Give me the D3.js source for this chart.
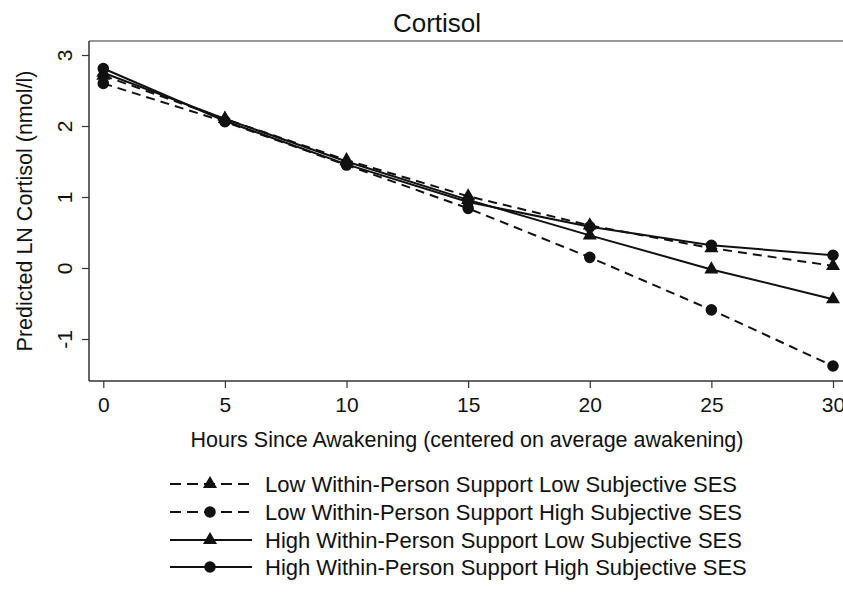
<!DOCTYPE html>
<html>
<head>
<meta charset="utf-8">
<script src="https://cdn.jsdelivr.net/npm/d3@7"></script>
<style>
  body { margin: 0; background: #fff; }
  text { font-family: "Liberation Sans", Arial, Helvetica, sans-serif; fill: #111; }
</style>
</head>
<body>
<div id="chart"></div>
<script>
// Data
const hours = [0, 5, 10, 15, 20, 25, 30];
const lowSupLowSES = [2.71, 2.10, 1.52, 1.01, 0.60, 0.28, 0.03];
const lowSupHighSES = [2.60, 2.06, 1.45, 0.84, 0.15, -0.59, -1.38];
const highSupLowSES = [2.75, 2.10, 1.50, 0.96, 0.46, -0.02, -0.44];
const highSupHighSES = [2.81, 2.07, 1.46, 0.93, 0.58, 0.32, 0.18];
const xTicks = [0, 5, 10, 15, 20, 25, 30];
const yTicks = [-1, 0, 1, 2, 3];
const seriesNames = [
    "Low Within-Person Support Low Subjective SES",
    "Low Within-Person Support High Subjective SES",
    "High Within-Person Support Low Subjective SES",
    "High Within-Person Support High Subjective SES"
];

const series = [
    {name: seriesNames[0], values: lowSupLowSES, dashed: true, symbol: "triangle"},
    {name: seriesNames[1], values: lowSupHighSES, dashed: true, symbol: "circle"},
    {name: seriesNames[2], values: highSupLowSES, dashed: false, symbol: "triangle"},
    {name: seriesNames[3], values: highSupHighSES, dashed: false, symbol: "circle"}
];

const width = 843, height = 609;
const plot = {left: 89, top: 41, right: 843, bottom: 381};

const svg = d3.select("#chart")
    .append("svg")
    .attr("width", width)
    .attr("height", height);

const x = d3.scaleLinear().domain([0, 30]).range([103.3, 833]);
const y = d3.scaleLinear().domain([-1, 3]).range([339, 55]);

// Frame (top edge of plot region)
svg.append("line")
    .attr("x1", plot.left).attr("x2", plot.right)
    .attr("y1", plot.top).attr("y2", plot.top)
    .attr("stroke", "#777").attr("stroke-width", 1.5);

// Axes
const yAxis = svg.append("g")
    .attr("transform", `translate(${plot.left},0)`)
    .call(d3.axisLeft(y).tickValues(yTicks).tickSize(7).tickFormat(d => String(d)));
yAxis.select(".domain").attr("d", `M0,${plot.top}V${plot.bottom}`).attr("stroke", "#333").attr("stroke-width", 1.5);
yAxis.selectAll(".tick line").attr("stroke", "#333").attr("stroke-width", 1.2);
yAxis.selectAll(".tick text")
    .attr("x", null).attr("dy", null)
    .attr("text-anchor", "middle")
    .attr("transform", "translate(-17,0) rotate(-90)")
    .style("font-size", "21px")
    .style("font-family", "'Liberation Sans', Arial, sans-serif")
    .attr("fill", "#111");

const xAxis = svg.append("g")
    .attr("transform", `translate(0,${plot.bottom})`)
    .call(d3.axisBottom(x).tickValues(xTicks).tickSize(7));
xAxis.select(".domain").attr("d", `M${plot.left},0H${plot.right}`).attr("stroke", "#333").attr("stroke-width", 1.5);
xAxis.selectAll(".tick line").attr("stroke", "#333").attr("stroke-width", 1.2);
xAxis.selectAll(".tick text")
    .attr("y", 31).attr("dy", null)
    .style("font-size", "21px")
    .style("font-family", "'Liberation Sans', Arial, sans-serif")
    .attr("fill", "#111");

// Titles
svg.append("text")
    .attr("x", 437).attr("y", 31.5)
    .attr("text-anchor", "middle")
    .style("font-size", "26px")
    .text("Cortisol");

svg.append("text")
    .attr("x", 467).attr("y", 447)
    .attr("text-anchor", "middle")
    .style("font-size", "21.5px")
    .text("Hours Since Awakening (centered on average awakening)");

svg.append("text")
    .attr("transform", "translate(32,211) rotate(-90)")
    .attr("text-anchor", "middle")
    .style("font-size", "21.5px")
    .text("Predicted LN Cortisol (nmol/l)");

// Lines and markers
const line = d3.line()
    .x((d, i) => x(hours[i]))
    .y(d => y(d));

const symbolFor = s => s === "triangle"
    ? d3.symbol().type(d3.symbolTriangle).size(85)
    : d3.symbol().type(d3.symbolCircle).size(105);

series.forEach(s => {
    svg.append("path")
        .datum(s.values)
        .attr("d", line)
        .attr("fill", "none")
        .attr("stroke", "#111")
        .attr("stroke-width", 2)
        .attr("stroke-dasharray", s.dashed ? "9,6" : null);

    svg.selectAll(null)
        .data(s.values)
        .join("path")
        .attr("transform", (d, i) => `translate(${x(hours[i])},${y(d)})`)
        .attr("d", symbolFor(s.symbol))
        .attr("fill", "#111");
});

// Legend
const legendRows = [484, 512, 540, 567];
const legend = svg.append("g");
series.forEach((s, i) => {
    const ly = legendRows[i];
    legend.append("line")
        .attr("x1", 170).attr("x2", 252)
        .attr("y1", ly).attr("y2", ly)
        .attr("stroke", "#111")
        .attr("stroke-width", 2)
        .attr("stroke-dasharray", s.dashed ? "11,6" : null);
    legend.append("path")
        .attr("transform", `translate(210,${ly})`)
        .attr("d", symbolFor(s.symbol))
        .attr("fill", "#111");
    legend.append("text")
        .attr("x", 265).attr("y", ly)
        .attr("dy", "0.36em")
        .style("font-size", "22px")
        .text(s.name);
});
</script>
</body>
</html>
